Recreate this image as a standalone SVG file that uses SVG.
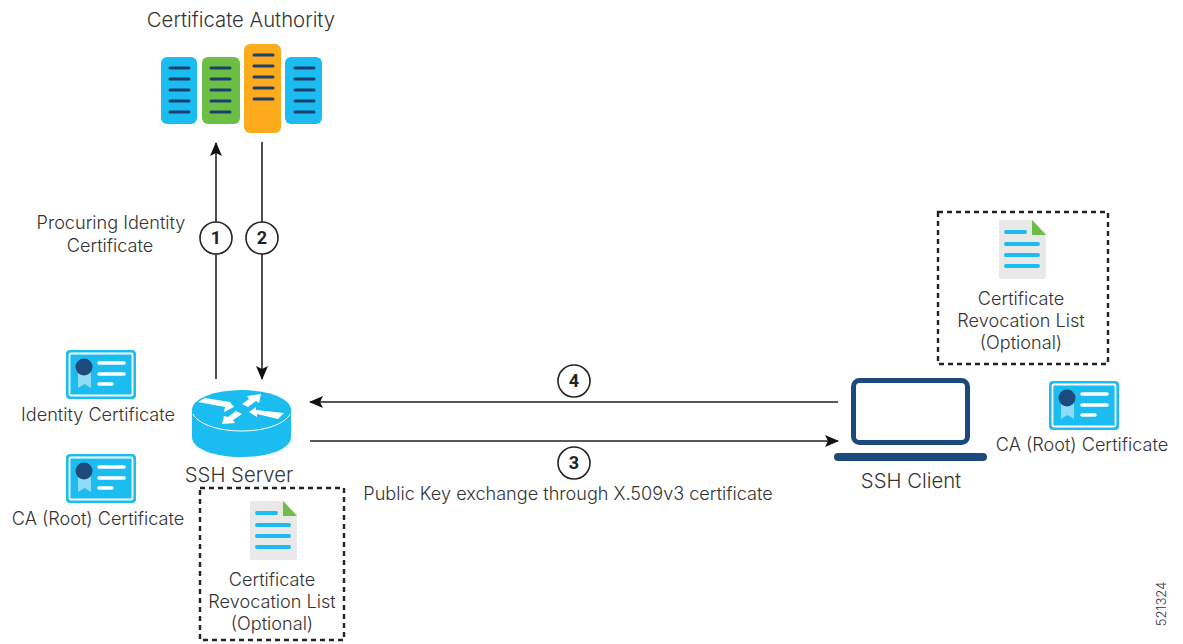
<svg xmlns="http://www.w3.org/2000/svg" width="1183" height="644" viewBox="0 0 1183 644">
<style>
text{font-family:Inter,"Liberation Sans",sans-serif;font-weight:300;font-size:18.1px;fill:#333;text-anchor:middle}
.t{font-size:20.300px}
.c{fill:none;stroke:#222;stroke-width:1.6}
.b{fill:none;stroke:#222;stroke-width:2.4;stroke-dasharray:5 4}
.l{stroke:#1c3f6e;stroke-width:3;stroke-linecap:round}
.w{stroke:#fff;stroke-width:3.500;stroke-linecap:round}
.d{stroke:#1bbcf0;stroke-width:4;stroke-linecap:round}
.n{fill:#fff;stroke:#222;stroke-width:1.6}
text.nt{font-family:Roboto,sans-serif;font-weight:700;font-size:18px;fill:#222}
</style>
<defs>
<marker id="a" markerWidth="14" markerHeight="12" refX="13" refY="6" orient="auto" markerUnits="userSpaceOnUse"><path d="M0 0L14 6L0 12L3 6Z" fill="#111"/></marker>
<g id="cert">
<rect x="0" y="0" width="70" height="49" rx="4" fill="#1bbcf0"/>
<rect x="3.500" y="3.500" width="63" height="42" rx="1.500" fill="none" stroke="#fff" stroke-width="1.800"/>
<path d="M12 22H25V38L18.500 34L12 38Z" fill="#8fdaf5"/>
<circle cx="18" cy="17" r="8.500" fill="#1c4a7d"/>
<path class="w" d="M33 13H58M33 24H58M33 34H46"/>
</g>
<g id="doc">
<path d="M2 0H34L47 13V57Q47 59 45 59H2Q0 59 0 57V2Q0 0 2 0Z" fill="#e9e9e9"/>
<path d="M33 0L47 15H33Z" fill="#6cbe45"/>
<path class="d" d="M7 12H26M7 24H39M7 35H39M7 46H39"/>
</g>
<g id="rack"><path class="l" d="M0 0H19M0 11H19M0 22H19M0 33H19M0 44H19"/></g>
</defs>
<g id="connectors">
<path class="c" d="M216 379V143" marker-end="url(#a)"/>
<path class="c" d="M262 142V379" marker-end="url(#a)"/>
<path class="c" d="M838 402H310" marker-end="url(#a)"/>
<path class="c" d="M310 441H838" marker-end="url(#a)"/>
</g>
<g id="ca">
<text class="t" x="241" y="27">Certificate Authority</text>
<rect x="161" y="57" width="36" height="67" rx="6" fill="#1bbcf0"/>
<rect x="202" y="57" width="38" height="67" rx="6" fill="#6cbe45"/>
<rect x="244" y="44" width="37" height="89" rx="6" fill="#fcab1c"/>
<rect x="285" y="57" width="37" height="67" rx="6" fill="#1bbcf0"/>
<use href="#rack" x="170" y="68"/><use href="#rack" x="211" y="68"/><use href="#rack" x="254" y="55"/><use href="#rack" x="295" y="68"/>
</g>
<g id="step1"><circle class="n" cx="216" cy="238" r="16"/><text class="nt" x="216" y="244">1</text></g>
<g id="step2"><circle class="n" cx="262" cy="238" r="16"/><text class="nt" x="262" y="244">2</text></g>
<g id="step4"><circle class="n" cx="574" cy="381" r="16"/><text class="nt" x="574" y="387">4</text></g>
<g id="step3"><circle class="n" cx="574" cy="463" r="16"/><text class="nt" x="574" y="469">3</text></g>
<g id="procuring"><text x="111" y="229">Procuring Identity</text><text x="110" y="252">Certificate</text></g>
<g id="server">
<path d="M192 410V437C192 449 214 457 241.500 457S291 449 291 437V410Z" fill="#1bbcf0"/>
<ellipse cx="241.500" cy="410" rx="49.500" ry="20" fill="#1bbcf0"/>
<path d="M193 414C198 424 218 431 241.500 431S285 424 290 414" fill="none" stroke="#fff" stroke-width="1"/>
<path fill="#fff" d="M198 402L205 398L230 402L234 407L224 412L225 407ZM242 404L249 399L247 396L261 394L259 403L256 401L248 407ZM249 412L256 407L256 410L284 413L278 419L257 414L257 417ZM222 424L224 416L228 417L236 411L242 414L233 420L235 423Z"/>
<text class="t" x="239" y="482">SSH Server</text>
</g>
<g id="identity-cert"><use href="#cert" x="66" y="350"/><text x="98" y="421">Identity Certificate</text></g>
<g id="ca-cert-server"><use href="#cert" x="66" y="454"/><text x="98" y="525">CA (Root) Certificate</text></g>
<g id="crl-server">
<rect class="b" x="200" y="488" width="144" height="152"/>
<use href="#doc" x="250" y="501"/>
<text x="272" y="586">Certificate</text><text x="272" y="608">Revocation List</text><text x="272" y="630">(Optional)</text>
</g>
<g id="exchange"><text x="568" y="500">Public Key exchange through X.509v3 certificate</text></g>
<g id="client">
<rect x="853.500" y="380.500" width="114" height="62" rx="6" fill="#fff" stroke="#1c4a7d" stroke-width="5"/>
<rect x="834" y="453" width="153" height="8" rx="4" fill="#1c4a7d"/>
<text class="t" x="911" y="488">SSH Client</text>
</g>
<g id="crl-client">
<rect class="b" x="938" y="212" width="170" height="152"/>
<use href="#doc" x="999" y="220"/>
<text x="1021" y="305">Certificate</text><text x="1021" y="327">Revocation List</text><text x="1021" y="349">(Optional)</text>
</g>
<g id="ca-cert-client"><use href="#cert" x="1049" y="381"/><text x="1082" y="451">CA (Root) Certificate</text></g>
<text x="1166" y="604" transform="rotate(-90 1166 604)" style="font-size:13px">521324</text>
</svg>
